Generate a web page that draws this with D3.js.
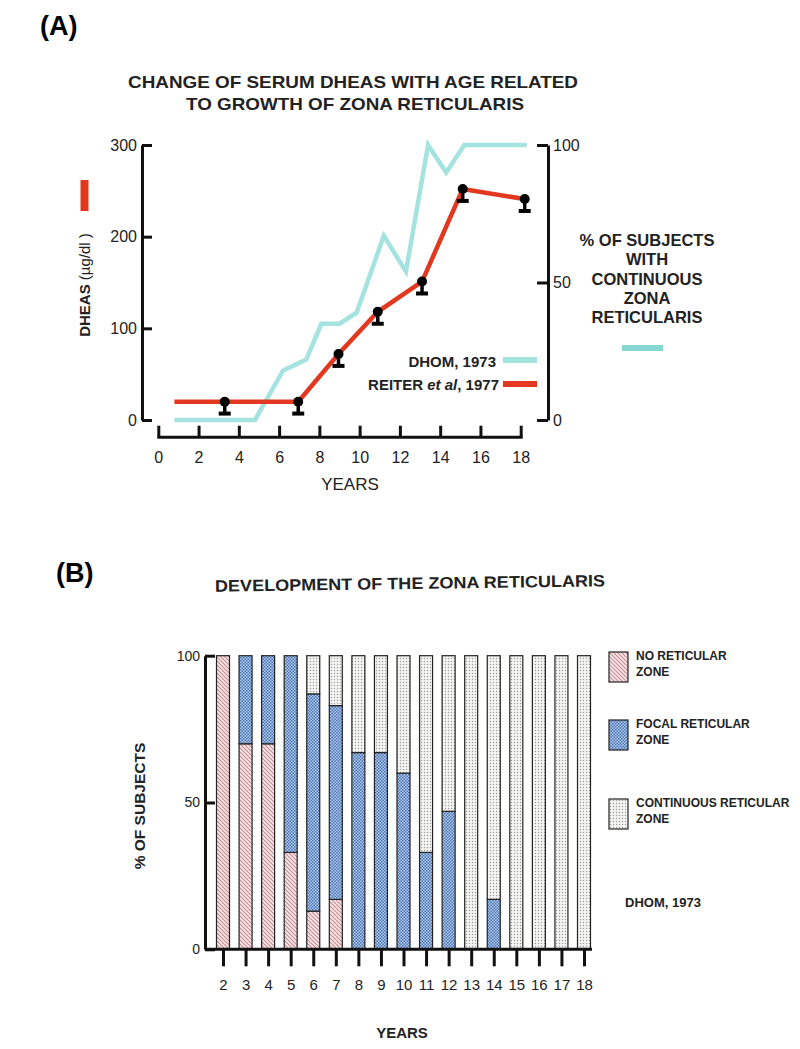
<!DOCTYPE html>
<html>
<head>
<meta charset="utf-8">
<script src="https://cdn.jsdelivr.net/npm/d3@7"></script>
<style>
  body { margin: 0; background: #fff; }
  svg { display: block; font-family: "Liberation Sans", Arial, sans-serif; }
  .axis path, .axis line { stroke: #111; stroke-width: 3; }
  .axis text { fill: #222; font-family: "Liberation Sans", Arial, sans-serif; }
</style>
</head>
<body>
<div class="container"></div>
<script>
// ---- panel A data ----
var dhomYears = [0.8, 4.8, 6.2, 7.35, 8.1, 9.0, 9.85, 11.2, 12.3, 13.4, 14.3, 15.2, 18.3];
var dhomPct = [0, 0, 18, 22, 35, 35, 39, 67, 54, 100, 90, 100, 100];

var reiterYears = [0.8, 3.3, 6.95, 8.95, 10.9, 13.1, 15.12, 18.2];
var reiterMean = [20, 20, 20, 72, 118, 151, 252, 241];
var reiterSE = [0, 13, 13, 13, 13, 13, 13, 13];
var reiterHasBar = [false, true, true, true, true, true, true, true];

var yearTicksA = [0, 2, 4, 6, 8, 10, 12, 14, 16, 18];
var dheasTicks = [0, 100, 200, 300];
var pctTicks = [0, 50, 100];

// ---- panel B data ----
var yearsB = [2, 3, 4, 5, 6, 7, 8, 9, 10, 11, 12, 13, 14, 15, 16, 17, 18];
var noZone = [100, 70, 70, 33, 13, 17, 0, 0, 0, 0, 0, 0, 0, 0, 0, 0, 0];
var focalZone = [0, 30, 30, 67, 74, 66, 67, 67, 60, 33, 47, 0, 17, 0, 0, 0, 0];
var contZone = [0, 0, 0, 0, 13, 17, 33, 33, 40, 67, 53, 100, 83, 100, 100, 100, 100];
var zoneKeys = ['none', 'focal', 'cont'];
var zoneLabels = [['NO RETICULAR', 'ZONE'], ['FOCAL RETICULAR', 'ZONE'], ['CONTINUOUS RETICULAR', 'ZONE']];
var subjTicks = [0, 50, 100];

var RED = '#e2381f';
var CYAN = '#a4e3df';

var svg = d3
	.select('.container')
	.append('svg')
	.attr('width', 800)
	.attr('height', 1049);

// patterns
var defs = svg.append('defs');
var hatch = defs.append('pattern').attr('id', 'hatch').attr('patternUnits', 'userSpaceOnUse')
	.attr('width', 4).attr('height', 4);
hatch.append('rect').attr('width', 4).attr('height', 4).attr('fill', '#f7e8ea');
hatch.append('path').attr('d', 'M0,0 L4,4 M-1,3 L1,5 M3,-1 L5,1')
	.attr('stroke', '#c98a94').attr('stroke-width', 1.1);

var checker = defs.append('pattern').attr('id', 'checker').attr('patternUnits', 'userSpaceOnUse')
	.attr('width', 3).attr('height', 3);
checker.append('rect').attr('width', 3).attr('height', 3).attr('fill', '#b2d0f2');
checker.append('rect').attr('width', 1.5).attr('height', 1.5).attr('fill', '#4a6fae');
checker.append('rect').attr('x', 1.5).attr('y', 1.5).attr('width', 1.5).attr('height', 1.5).attr('fill', '#4a6fae');

var dots = defs.append('pattern').attr('id', 'dots').attr('patternUnits', 'userSpaceOnUse')
	.attr('width', 3).attr('height', 3);
dots.append('rect').attr('width', 3).attr('height', 3).attr('fill', '#f4f4f2');
dots.append('circle').attr('cx', 1.5).attr('cy', 1.5).attr('r', 0.7).attr('fill', '#999');

var fills = { none: 'url(#hatch)', focal: 'url(#checker)', cont: 'url(#dots)' };

// ================= PANEL A =================
svg.append('text').attr('x', 40).attr('y', 35).text('(A)')
	.style('font-size', '27px').style('font-weight', 'bold');

svg.append('text').attr('x', 353).attr('y', 88).attr('text-anchor', 'middle')
	.attr('textLength', 450).attr('lengthAdjust', 'spacingAndGlyphs')
	.style('font-size', '17px').style('font-weight', 'bold').style('fill', '#222')
	.text('CHANGE OF SERUM DHEAS WITH AGE RELATED');
svg.append('text').attr('x', 355).attr('y', 110).attr('text-anchor', 'middle')
	.attr('textLength', 338).attr('lengthAdjust', 'spacingAndGlyphs')
	.style('font-size', '17px').style('font-weight', 'bold').style('fill', '#222')
	.text('TO GROWTH OF ZONA RETICULARIS');

var xA = d3.scaleLinear().domain([0, 18]).range([158.3, 520.7]);
var yL = d3.scaleLinear().domain([0, 300]).range([420, 145]);
var yR = d3.scaleLinear().domain([0, 100]).range([420, 145]);

var axL = svg.append('g').attr('class', 'axis').attr('transform', 'translate(142,0)')
	.call(d3.axisLeft(yL).tickValues(dheasTicks).tickSizeInner(-10).tickSizeOuter(0).tickPadding(5));
axL.selectAll('text').style('font-size', '16px');

var axR = svg.append('g').attr('class', 'axis').attr('transform', 'translate(548,0)')
	.call(d3.axisRight(yR).tickValues(pctTicks).tickSizeInner(-11).tickSizeOuter(0).tickPadding(5));
axR.selectAll('text').style('font-size', '16px');

var axB = svg.append('g').attr('class', 'axis').attr('transform', 'translate(0,436.7)')
	.call(d3.axisBottom(xA).tickValues(yearTicksA).tickSizeInner(-11).tickSizeOuter(0).tickPadding(15));
axB.selectAll('text').style('font-size', '16px');
axB.select('.domain').attr('stroke-linecap', 'square');

svg.append('text').attr('x', 350).attr('y', 490).attr('text-anchor', 'middle')
	.style('font-size', '17px').style('fill', '#222').text('YEARS');

// left label
var lab = svg.append('text').attr('transform', 'translate(90,285) rotate(-90)')
	.attr('text-anchor', 'middle').style('font-size', '15px').style('fill', '#222');
lab.append('tspan').style('font-weight', 'bold').text('DHEAS ');
lab.append('tspan').text('(\u00b5g/dl )');
svg.append('rect').attr('x', 80.5).attr('y', 180).attr('width', 8).attr('height', 31).attr('fill', RED);

// right label
var rightLab = ['% OF SUBJECTS', 'WITH', 'CONTINUOUS', 'ZONA', 'RETICULARIS'];
svg.append('g').selectAll('text').data(rightLab).enter().append('text')
	.attr('x', 647)
	.attr('y', function(d, i) { return 246 + i * 19.3; })
	.attr('text-anchor', 'middle')
	.style('font-size', '16.5px').style('font-weight', 'bold').style('fill', '#222')
	.text(function(d) { return d; });
svg.append('line').attr('x1', 622).attr('x2', 663).attr('y1', 348).attr('y2', 348)
	.attr('stroke', '#86d8d2').attr('stroke-width', 6);

// lines
var dhomData = dhomYears.map(function(y, i) { return [y, dhomPct[i]]; });
var reiterData = reiterYears.map(function(y, i) {
	return { year: y, mean: reiterMean[i], se: reiterSE[i], bar: reiterHasBar[i] };
});

svg.append('path').datum(dhomData)
	.attr('fill', 'none').attr('stroke', CYAN).attr('stroke-width', 4.5)
	.attr('d', d3.line().x(function(d) { return xA(d[0]); }).y(function(d) { return yR(d[1]); }));

svg.append('path').datum(reiterData)
	.attr('fill', 'none').attr('stroke', RED).attr('stroke-width', 4.5)
	.attr('d', d3.line().x(function(d) { return xA(d.year); }).y(function(d) { return yL(d.mean); }));

var marks = svg.append('g').selectAll('g')
	.data(reiterData.filter(function(d) { return d.bar; }))
	.enter().append('g');
marks.append('line')
	.attr('x1', function(d) { return xA(d.year); })
	.attr('x2', function(d) { return xA(d.year); })
	.attr('y1', function(d) { return yL(d.mean); })
	.attr('y2', function(d) { return yL(d.mean - d.se); })
	.attr('stroke', '#000').attr('stroke-width', 3.5);
marks.append('line')
	.attr('x1', function(d) { return xA(d.year) - 6; })
	.attr('x2', function(d) { return xA(d.year) + 6; })
	.attr('y1', function(d) { return yL(d.mean - d.se); })
	.attr('y2', function(d) { return yL(d.mean - d.se); })
	.attr('stroke', '#000').attr('stroke-width', 4);
marks.append('circle')
	.attr('cx', function(d) { return xA(d.year); })
	.attr('cy', function(d) { return yL(d.mean); })
	.attr('r', 5).attr('fill', '#000');

// legend A
svg.append('text').attr('x', 496).attr('y', 367).attr('text-anchor', 'end')
	.style('font-size', '15px').style('font-weight', 'bold').style('fill', '#222').text('DHOM, 1973');
svg.append('line').attr('x1', 503).attr('x2', 537).attr('y1', 360).attr('y2', 360)
	.attr('stroke', CYAN).attr('stroke-width', 6);
var rl = svg.append('text').attr('x', 499).attr('y', 390).attr('text-anchor', 'end')
	.style('font-size', '15px').style('font-weight', 'bold').style('fill', '#222');
rl.append('tspan').text('REITER ');
rl.append('tspan').style('font-style', 'italic').text('et al');
rl.append('tspan').text(', 1977');
svg.append('line').attr('x1', 503).attr('x2', 537).attr('y1', 384).attr('y2', 384)
	.attr('stroke', RED).attr('stroke-width', 6);

// ================= PANEL B =================
svg.append('text').attr('x', 56).attr('y', 582).text('(B)')
	.style('font-size', '27px').style('font-weight', 'bold');

svg.append('text').attr('x', 410).attr('y', 589).attr('text-anchor', 'middle')
	.attr('transform', 'rotate(-0.8,410,585)')
	.attr('textLength', 390).attr('lengthAdjust', 'spacingAndGlyphs')
	.style('font-size', '16.5px').style('font-weight', 'bold').style('fill', '#222')
	.text('DEVELOPMENT OF THE ZONA RETICULARIS');

var xB = d3.scalePoint().domain(yearsB).range([223, 584]);
var yB = d3.scaleLinear().domain([0, 100]).range([949.3, 655.7]);

var tableB = yearsB.map(function(y, i) {
	return { year: y, none: noZone[i], focal: focalZone[i], cont: contZone[i] };
});
var stacked = d3.stack().keys(zoneKeys)(tableB);

var barW = 13;
svg.append('g').selectAll('g').data(stacked).enter().append('g')
	.attr('fill', function(s) { return fills[s.key]; })
	.selectAll('rect')
	.data(function(s) { return s.filter(function(d) { return d[1] - d[0] > 0; }); })
	.enter().append('rect')
	.attr('x', function(d) { return xB(d.data.year) - barW / 2; })
	.attr('y', function(d) { return yB(d[1]); })
	.attr('width', barW)
	.attr('height', function(d) { return yB(d[0]) - yB(d[1]); })
	.attr('stroke', '#222').attr('stroke-width', 1.2);

var bl = svg.append('g').attr('class', 'axis').attr('transform', 'translate(205,0)')
	.call(d3.axisLeft(yB).tickValues(subjTicks).tickSizeInner(-10).tickSizeOuter(0).tickPadding(5));
bl.selectAll('text').style('font-size', '14px');

var bb = svg.append('g').attr('class', 'axis').attr('transform', 'translate(0,949.3)')
	.call(d3.axisBottom(xB).tickSizeInner(17).tickSizeOuter(0).tickPadding(13));
bb.select('.domain').remove();
bb.selectAll('text').style('font-size', '15px');
svg.append('line').attr('x1', 205).attr('x2', 592).attr('y1', 949.3).attr('y2', 949.3)
	.attr('stroke', '#111').attr('stroke-width', 3);

svg.append('text').attr('x', 402).attr('y', 1038).attr('text-anchor', 'middle')
	.style('font-size', '15px').style('font-weight', 'bold').style('fill', '#222').text('YEARS');

svg.append('text').attr('transform', 'translate(145,806) rotate(-90)').attr('text-anchor', 'middle')
	.style('font-size', '15.5px').style('font-weight', 'bold').style('fill', '#222').text('% OF SUBJECTS');

// legend B
var lg = svg.append('g').selectAll('g').data(zoneKeys).enter().append('g')
	.attr('transform', function(d, i) { return 'translate(609,' + [652, 720, 799][i] + ')'; });
lg.append('rect').attr('width', 19).attr('height', 30)
	.attr('fill', function(d) { return fills[d]; }).attr('stroke', '#222').attr('stroke-width', 1.2);
lg.each(function(d, i) {
	var g = d3.select(this);
	zoneLabels[i].forEach(function(t, j) {
		g.append('text').attr('x', 27).attr('y', 8 + j * 16)
			.style('font-size', '12px').style('font-weight', 'bold').style('fill', '#222').text(t);
	});
});

svg.append('text').attr('x', 625).attr('y', 907)
	.style('font-size', '13px').style('font-weight', 'bold').style('fill', '#222').text('DHOM, 1973');
</script>
</body>
</html>
